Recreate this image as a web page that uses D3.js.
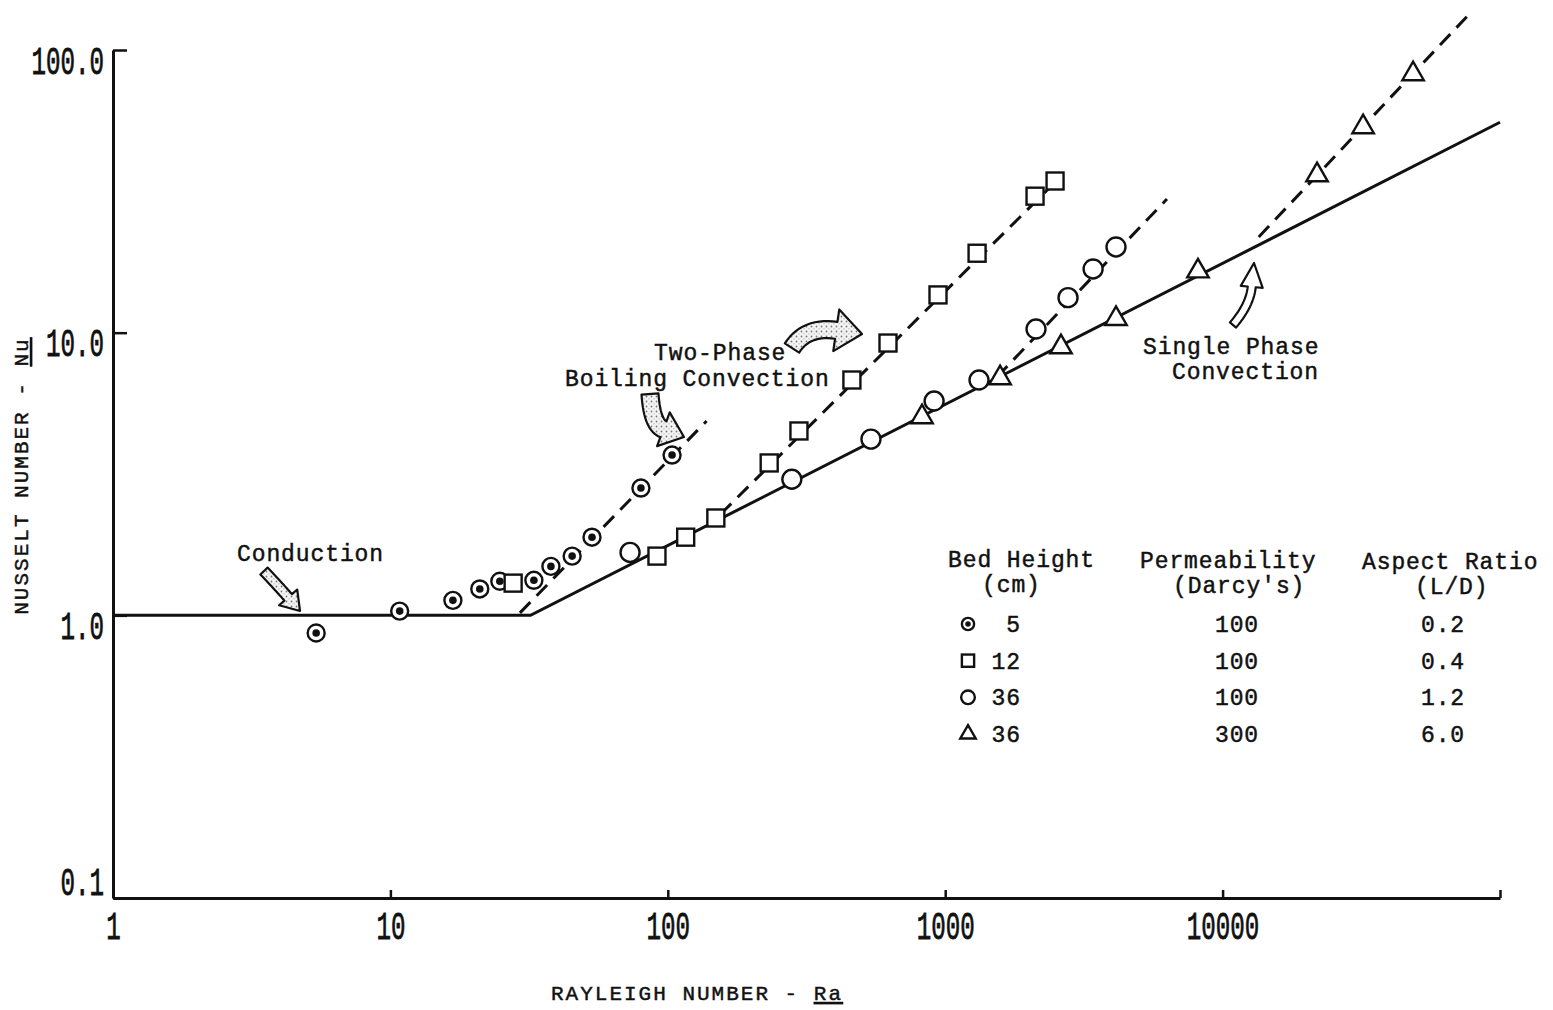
<!DOCTYPE html>
<html>
<head>
<meta charset="utf-8">
<script src="https://d3js.org/d3.v7.min.js"></script>
<style>
  body { margin: 0; background: #fff; }
  svg { display: block; }
  text { font-family: "Liberation Mono", "DejaVu Sans Mono", monospace; fill: #111; }
  .lbl { font-size: 23px; letter-spacing: 0.9px; stroke: #111; stroke-width: 0.45px; }
</style>
</head>
<body>
<svg></svg>
<script>
const w = 1553
const h = 1010

// axis ticks
const xTicks = [1, 10, 100, 1000, 10000, 100000]
const xTickLabels = ['1', '10', '100', '1000', '10000', '']
const yTicks = [0.1, 1, 10, 100]
const yTickLabels = ['0.1', '1.0', '10.0', '100.0']

// bed height 5 cm, 100 darcy (dotted circles)
const ra5 = [5.4, 10.8, 16.8, 21.0, 24.8, 32.9, 37.9, 45.2, 53.3, 80.0, 103.6]
const nu5 = [0.866, 1.035, 1.13, 1.24, 1.32, 1.33, 1.49, 1.62, 1.89, 2.82, 3.69]

// bed height 12 cm, 100 darcy (squares)
const ra12 = [27.7, 91.4, 116, 149, 232, 297, 461, 622, 942, 1303, 2108, 2489]
const nu12 = [1.30, 1.62, 1.89, 2.21, 3.46, 4.49, 6.80, 9.19, 13.6, 19.1, 30.4, 34.4]

// bed height 36 cm, 100 darcy (open circles)
const ra36 = [73.1, 280, 540, 912, 1324, 2125, 2772, 3413, 4128]
const nu36 = [1.67, 3.03, 4.20, 5.73, 6.80, 10.3, 13.3, 16.8, 20.1]

// bed height 36 cm, 300 darcy (triangles)
const ra36b = [825, 1577, 2614, 4128, 8150, 21900, 32100, 48600]
const nu36b = [5.03, 6.91, 8.89, 11.2, 16.5, 36.1, 53.4, 82.2]

// correlation lines
const raSolid = [1, 32, 100000]
const nuSolid = [1, 1, 55.5]
const dashedLines = [
    { ra: [29.3, 138], nu: [1.02, 4.87] },
    { ra: [155, 2560], nu: [2.28, 35.0] },
    { ra: [1537, 6300], nu: [6.97, 29.7] },
    { ra: [13500, 78600], nu: [21.8, 136] }
]

// legend table
const legendHeights = ['5', '12', '36', '36']
const legendPerm = ['100', '100', '100', '300']
const legendAspect = ['0.2', '0.4', '1.2', '6.0']
const legendSymbols = ['dot', 'square', 'circle', 'triangle']

const svg = d3.select('svg').attr('width', w).attr('height', h)

const x = d3.scaleLog().domain([1, 100000]).range([113, 1500])
const y = d3.scaleLog().domain([0.1, 100]).range([898, 50])

// stipple pattern for the hand drawn arrows
const pat = svg.append('defs').append('pattern')
    .attr('id', 'stipple')
    .attr('width', 5).attr('height', 5)
    .attr('patternUnits', 'userSpaceOnUse')
pat.append('rect').attr('width', 5).attr('height', 5).attr('fill', '#f4f4f4')
pat.append('circle').attr('cx', 1.5).attr('cy', 1.5).attr('r', 0.9).attr('fill', '#777')
pat.append('circle').attr('cx', 4).attr('cy', 3.8).attr('r', 0.6).attr('fill', '#999')

// axes
const yAxis = d3.axisLeft(y)
    .tickValues(yTicks)
    .tickFormat((d, i) => yTickLabels[i])
    .tickSize(-14)
    .tickSizeOuter(0)
    .tickPadding(9)

const xAxis = d3.axisBottom(x)
    .tickValues(xTicks)
    .tickFormat((d, i) => xTickLabels[i])
    .tickSize(-8)
    .tickSizeOuter(0)

const gy = svg.append('g').attr('transform', `translate(${x(1)},0)`).call(yAxis)
const gx = svg.append('g').attr('transform', `translate(0,${y(0.1)})`).call(xAxis)

for (const g of [gx, gy]) {
    g.select('.domain').attr('stroke', '#111').attr('stroke-width', 3)
    g.selectAll('.tick line').attr('stroke', '#111').attr('stroke-width', 2.5)
    g.selectAll('.tick text')
        .style('font-family', '"Liberation Mono", monospace')
        .style('font-size', '38px')
        .attr('fill', '#111')
        .attr('stroke', '#111')
        .attr('stroke-width', 0.8)
        .attr('lengthAdjust', 'spacingAndGlyphs')
        .attr('textLength', function () { return this.textContent.length * 14.5 })
}
gy.selectAll('.tick text')
    .attr('dy', (d, i) => i == 0 ? -4 : 23)
gx.selectAll('.tick text')
    .attr('y', 41)
    .attr('dy', 0)

// axis titles
const yTitle = svg.append('text')
    .attr('class', 'lbl')
    .attr('transform', 'translate(28,476) rotate(-90)')
    .attr('text-anchor', 'middle')
    .style('font-size', '21px')
    .style('letter-spacing', '2px')
yTitle.append('tspan').text('NUSSELT NUMBER - ')
yTitle.append('tspan').text('Nu').style('text-decoration', 'underline')

const xTitle = svg.append('text')
    .attr('class', 'lbl')
    .attr('x', 697).attr('y', 1000)
    .attr('text-anchor', 'middle')
    .style('font-size', '21px')
    .style('letter-spacing', '2px')
xTitle.append('tspan').text('RAYLEIGH NUMBER - ')
xTitle.append('tspan').text('Ra').style('text-decoration', 'underline')

// lines
const line = d3.line().x(d => x(d[0])).y(d => y(d[1]))

svg.append('path')
    .attr('d', line(d3.zip(raSolid, nuSolid)))
    .attr('fill', 'none')
    .attr('stroke', '#111')
    .attr('stroke-width', 3)

svg.selectAll('.dashed')
    .data(dashedLines)
    .enter()
    .append('path')
    .attr('class', 'dashed')
    .attr('d', d => line(d3.zip(d.ra, d.nu)))
    .attr('fill', 'none')
    .attr('stroke', '#111')
    .attr('stroke-width', 3)
    .attr('stroke-dasharray', '15 9')

// markers
const drawMarker = (g, kind, scale) => {
    const k = scale || 1
    if (kind == 'dot') {
        g.append('circle').attr('r', 8.5 * k).attr('fill', '#fff').attr('stroke', '#111').attr('stroke-width', 2.4)
        g.append('circle').attr('r', 3.8 * k).attr('fill', '#111')
    } else if (kind == 'square') {
        g.append('rect')
            .attr('x', -8.5 * k).attr('y', -8.5 * k)
            .attr('width', 17 * k).attr('height', 17 * k)
            .attr('fill', '#fff').attr('stroke', '#111').attr('stroke-width', 2.4)
    } else if (kind == 'circle') {
        g.append('circle').attr('r', 9.5 * k).attr('fill', '#fff').attr('stroke', '#111').attr('stroke-width', 2.4)
    } else {
        g.append('path')
            .attr('d', d3.symbol().type(d3.symbolTriangle).size(200 * k * k)())
            .attr('fill', '#fff').attr('stroke', '#111').attr('stroke-width', 2.4)
    }
}

const series = [
    { kind: 'dot', ra: ra5, nu: nu5 },
    { kind: 'square', ra: ra12, nu: nu12 },
    { kind: 'circle', ra: ra36, nu: nu36 },
    { kind: 'triangle', ra: ra36b, nu: nu36b }
]

for (const s of series) {
    svg.append('g')
        .selectAll('g')
        .data(d3.zip(s.ra, s.nu))
        .enter()
        .append('g')
        .attr('transform', d => `translate(${x(d[0])},${y(d[1])})`)
        .each(function () { drawMarker(d3.select(this), s.kind) })
}

// annotation text
const annot = (str, tx, ty) => svg.append('text')
    .attr('class', 'lbl')
    .attr('x', tx).attr('y', ty)
    .text(str)

annot('Conduction', 237, 561)
annot('Two-Phase', 654, 360)
annot('Boiling Convection', 565, 386)
annot('Single Phase', 1143, 354)
annot('Convection', 1172, 379)

// hand drawn block arrows
const arrowPath = (p0, c, p1, shaftW, headW, headL) => {
    const dx = p1[0] - c[0], dy = p1[1] - c[1]
    const len = Math.hypot(dx, dy)
    const ux = dx / len, uy = dy / len
    const base = [p1[0] - ux * headL, p1[1] - uy * headL]
    const left = [], right = []
    const n = 14
    for (let i = 0; i <= n; i++) {
        const t = i / n
        const px = (1 - t) * (1 - t) * p0[0] + 2 * (1 - t) * t * c[0] + t * t * base[0]
        const py = (1 - t) * (1 - t) * p0[1] + 2 * (1 - t) * t * c[1] + t * t * base[1]
        let tx = 2 * (1 - t) * (c[0] - p0[0]) + 2 * t * (base[0] - c[0])
        let ty = 2 * (1 - t) * (c[1] - p0[1]) + 2 * t * (base[1] - c[1])
        const tl = Math.hypot(tx, ty)
        const nx = -ty / tl, ny = tx / tl
        left.push([px + nx * shaftW / 2, py + ny * shaftW / 2])
        right.push([px - nx * shaftW / 2, py - ny * shaftW / 2])
    }
    const nx = -uy, ny = ux
    const pts = [
        ...left,
        [base[0] + nx * headW / 2, base[1] + ny * headW / 2],
        p1,
        [base[0] - nx * headW / 2, base[1] - ny * headW / 2],
        ...right.reverse()
    ]
    return d3.line()(pts) + 'Z'
}

const arrows = [
    { p0: [264, 571], c: [280, 588], p1: [300, 611], sw: 10, hw: 24, hl: 18 },
    { p0: [650, 394], c: [652, 425], p1: [684, 437], sw: 17, hw: 36, hl: 22 },
    { p0: [792, 348], c: [806, 326], p1: [862, 334], sw: 17, hw: 42, hl: 26 },
    { p0: [1233, 325], c: [1250, 305], p1: [1254, 263], sw: 8, hw: 22, hl: 24 }
]

svg.selectAll('.arrow')
    .data(arrows)
    .enter()
    .append('path')
    .attr('class', 'arrow')
    .attr('d', d => arrowPath(d.p0, d.c, d.p1, d.sw, d.hw, d.hl))
    .attr('fill', (d, i) => i == 3 ? '#fff' : 'url(#stipple)')
    .attr('stroke', '#111')
    .attr('stroke-width', 2.2)
    .attr('stroke-linejoin', 'round')

// legend
const legend = svg.append('g')
const head = (str, tx, ty) => legend.append('text')
    .attr('class', 'lbl')
    .attr('x', tx).attr('y', ty)
    .text(str)

head('Bed Height', 948, 567)
head('(cm)', 982, 592)
head('Permeability', 1140, 568)
head("(Darcy's)", 1173, 593)
head('Aspect Ratio', 1362, 569)
head('(L/D)', 1415, 594)

const rowY = d3.scaleLinear().domain([0, 3]).range([624, 734])

legendSymbols.forEach((s, i) => {
    const g = legend.append('g').attr('transform', `translate(968,${rowY(i)})`)
    drawMarker(g, s, 0.72)
    legend.append('text')
        .attr('class', 'lbl')
        .attr('x', 1021).attr('y', rowY(i) + 8)
        .attr('text-anchor', 'end')
        .text(legendHeights[i])
    legend.append('text')
        .attr('class', 'lbl')
        .attr('x', 1237).attr('y', rowY(i) + 8)
        .attr('text-anchor', 'middle')
        .text(legendPerm[i])
    legend.append('text')
        .attr('class', 'lbl')
        .attr('x', 1443).attr('y', rowY(i) + 8)
        .attr('text-anchor', 'middle')
        .text(legendAspect[i])
})
</script>
</body>
</html>
